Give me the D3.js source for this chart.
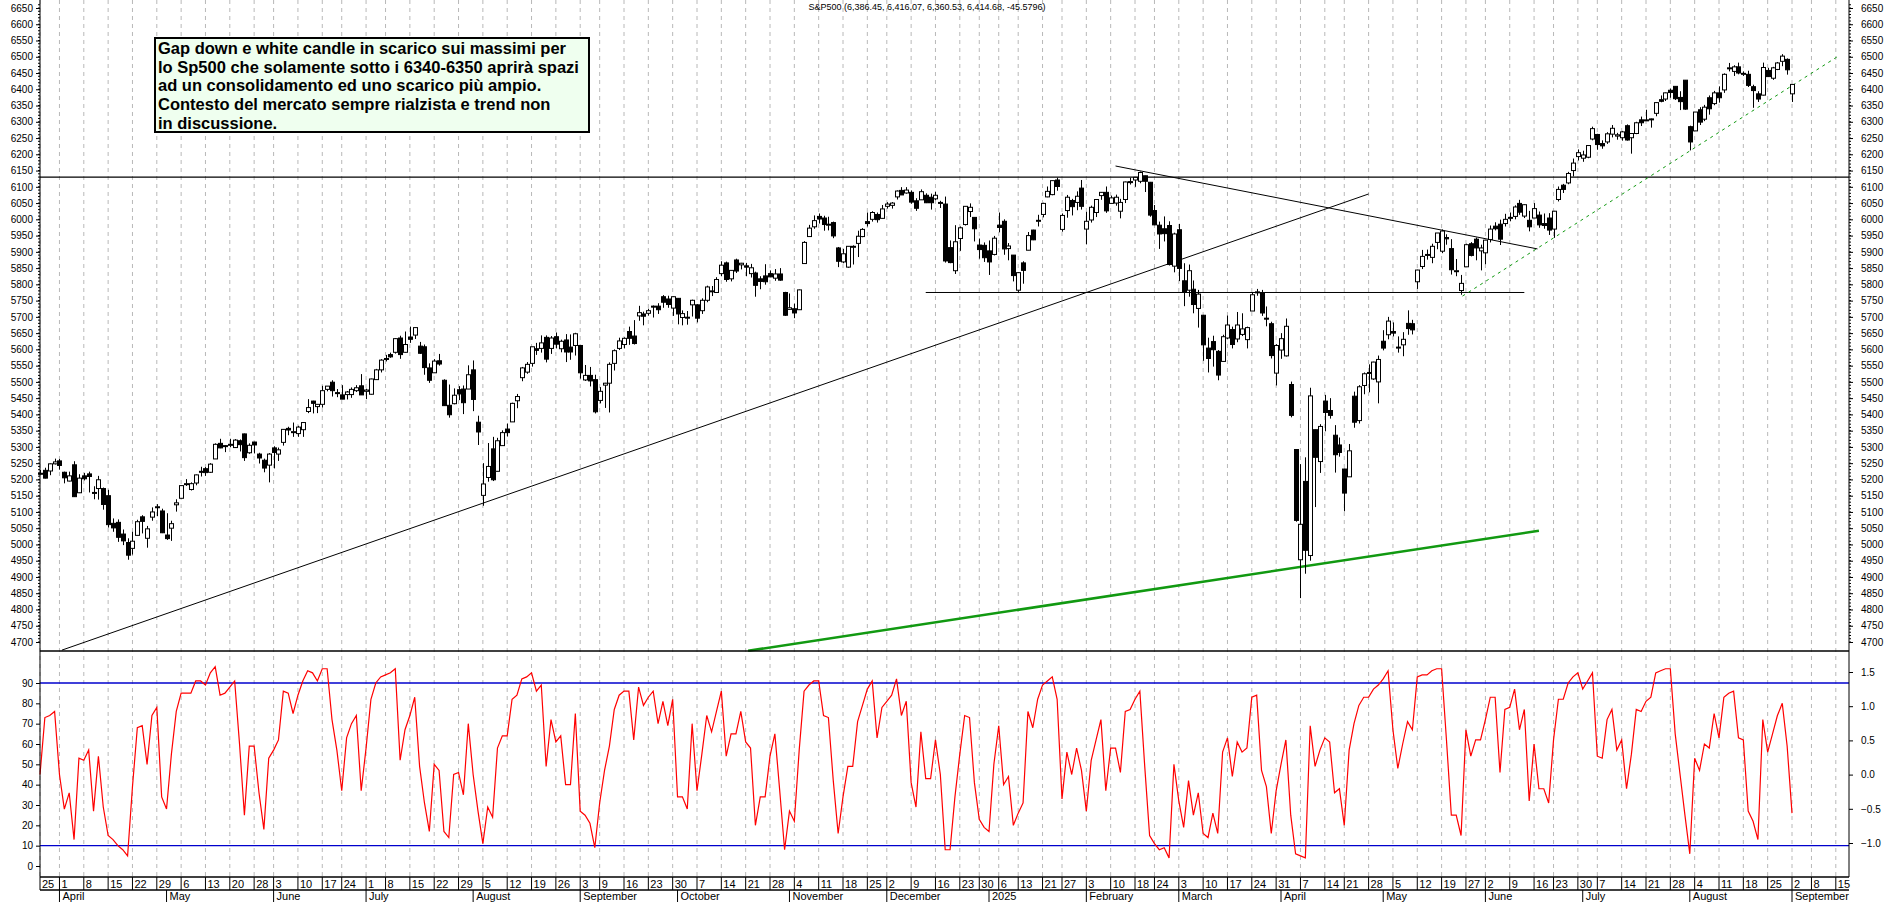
<!DOCTYPE html>
<html>
<head>
<meta charset="utf-8">
<script src="https://cdn.jsdelivr.net/npm/d3@7"></script>
<style>
  body { margin: 0; background: #fff; }
  svg { display: block; font-family: "Liberation Sans", Arial, sans-serif; }
</style>
</head>
<body>
<div id="app"></div>
<script>
// daily bars: date open high low close
const bars = `
2024-03-25 5219 5229 5216 5218|2024-03-26 5228 5236 5203 5204|2024-03-27 5226 5249 5213 5248|2024-03-28 5248 5264 5246 5254
2024-04-01 5257 5263 5230 5243|2024-04-02 5222 5224 5188 5205|2024-04-03 5195 5224 5194 5211|2024-04-04 5245 5256 5146 5147|2024-04-05 5159 5216 5158 5204
2024-04-08 5211 5220 5197 5202|2024-04-09 5217 5224 5160 5209|2024-04-10 5160 5179 5139 5160|2024-04-11 5172 5211 5138 5199|2024-04-12 5172 5175 5107 5123
2024-04-15 5150 5168 5052 5061|2024-04-16 5065 5080 5039 5051|2024-04-17 5068 5077 5008 5022|2024-04-18 5032 5046 4998 5011|2024-04-19 5006 5019 4953 4967
2024-04-22 4988 5039 4969 5010|2024-04-23 5028 5076 5028 5070|2024-04-24 5085 5090 5034 5071|2024-04-25 5019 5057 4990 5048|2024-04-26 5084 5114 5073 5100
2024-04-29 5114 5124 5087 5116|2024-04-30 5103 5110 5035 5036|2024-05-01 5029 5096 5014 5018|2024-05-02 5050 5073 5011 5064|2024-05-03 5122 5139 5101 5128
2024-05-06 5142 5181 5142 5181|2024-05-07 5187 5201 5180 5187|2024-05-08 5169 5191 5166 5187|2024-05-09 5189 5215 5182 5214|2024-05-10 5225 5239 5209 5223
2024-05-13 5233 5238 5211 5221|2024-05-14 5222 5250 5220 5247|2024-05-15 5263 5311 5263 5308|2024-05-16 5311 5325 5296 5297|2024-05-17 5304 5305 5284 5303
2024-05-20 5305 5325 5299 5308|2024-05-21 5298 5324 5297 5321|2024-05-22 5319 5323 5286 5307|2024-05-23 5340 5341 5257 5267|2024-05-24 5282 5311 5279 5305
2024-05-28 5315 5316 5280 5306|2024-05-29 5278 5282 5249 5266|2024-05-30 5259 5264 5222 5235|2024-05-31 5244 5281 5191 5278
2024-06-03 5297 5302 5234 5283|2024-06-04 5278 5298 5257 5291|2024-06-05 5314 5354 5304 5354|2024-06-06 5357 5362 5336 5352|2024-06-07 5344 5375 5331 5347
2024-06-10 5341 5365 5331 5361|2024-06-11 5353 5376 5331 5375|2024-06-12 5409 5447 5404 5421|2024-06-13 5441 5442 5403 5434|2024-06-14 5424 5432 5404 5431
2024-06-17 5431 5488 5421 5473|2024-06-18 5477 5487 5471 5487|2024-06-20 5499 5505 5455 5473|2024-06-21 5467 5478 5453 5464
2024-06-24 5460 5490 5447 5447|2024-06-25 5461 5472 5446 5469|2024-06-26 5461 5483 5451 5477|2024-06-27 5473 5490 5469 5482|2024-06-28 5488 5524 5460 5460
2024-07-01 5471 5479 5447 5475|2024-07-02 5462 5510 5461 5509|2024-07-03 5507 5540 5507 5537|2024-07-05 5537 5570 5529 5567
2024-07-08 5572 5583 5563 5572|2024-07-09 5584 5590 5574 5577|2024-07-10 5591 5635 5587 5633|2024-07-11 5635 5642 5571 5584|2024-07-12 5591 5655 5590 5615
2024-07-15 5638 5670 5620 5631|2024-07-16 5644 5667 5632 5667|2024-07-17 5610 5623 5586 5588|2024-07-18 5608 5615 5522 5544|2024-07-19 5543 5557 5497 5505
2024-07-22 5528 5570 5528 5564|2024-07-23 5565 5586 5550 5555|2024-07-24 5505 5508 5426 5427|2024-07-25 5428 5492 5390 5399|2024-07-26 5433 5480 5431 5459
2024-07-29 5476 5487 5444 5463|2024-07-30 5478 5489 5401 5436|2024-07-31 5478 5551 5478 5522|2024-08-01 5537 5566 5410 5446|2024-08-02 5376 5396 5306 5346
2024-08-05 5151 5250 5119 5186|2024-08-06 5206 5312 5193 5240|2024-08-07 5294 5331 5195 5199|2024-08-08 5225 5328 5225 5319|2024-08-09 5304 5351 5303 5344
2024-08-12 5355 5372 5332 5344|2024-08-13 5377 5436 5377 5434|2024-08-14 5442 5463 5419 5455|2024-08-15 5513 5546 5502 5543|2024-08-16 5530 5561 5525 5554
2024-08-19 5557 5608 5547 5608|2024-08-20 5602 5620 5583 5597|2024-08-21 5603 5643 5590 5620|2024-08-22 5637 5643 5560 5570|2024-08-23 5603 5641 5586 5635
2024-08-26 5639 5652 5603 5616|2024-08-27 5602 5630 5591 5625|2024-08-28 5629 5647 5561 5592|2024-08-29 5607 5646 5568 5592|2024-08-30 5612 5651 5581 5648
2024-09-03 5612 5612 5510 5528|2024-09-04 5506 5552 5503 5520|2024-09-05 5520 5546 5486 5503|2024-09-06 5507 5522 5403 5408
2024-09-09 5443 5484 5434 5471|2024-09-10 5490 5497 5420 5496|2024-09-11 5496 5560 5406 5554|2024-09-12 5557 5600 5535 5596|2024-09-13 5603 5636 5598 5626
2024-09-16 5615 5637 5603 5634|2024-09-17 5655 5670 5614 5634|2024-09-18 5641 5690 5615 5618|2024-09-19 5703 5734 5688 5713|2024-09-20 5709 5716 5674 5702
2024-09-23 5711 5725 5704 5719|2024-09-24 5733 5735 5698 5732|2024-09-25 5733 5742 5709 5722|2024-09-26 5762 5767 5728 5745|2024-09-27 5755 5765 5728 5738
2024-09-30 5727 5763 5703 5762|2024-10-01 5757 5757 5677 5709|2024-10-02 5698 5720 5674 5710|2024-10-03 5698 5718 5676 5699|2024-10-04 5737 5753 5701 5751
2024-10-07 5737 5739 5683 5696|2024-10-08 5719 5757 5709 5751|2024-10-09 5751 5796 5745 5792|2024-10-10 5778 5795 5764 5780|2024-10-11 5775 5822 5775 5815
2024-10-14 5833 5871 5825 5859|2024-10-15 5866 5870 5808 5815|2024-10-16 5817 5843 5809 5843|2024-10-17 5875 5879 5835 5841|2024-10-18 5860 5866 5846 5865
2024-10-21 5857 5866 5825 5853|2024-10-22 5833 5863 5821 5851|2024-10-23 5835 5839 5762 5797|2024-10-24 5817 5825 5785 5809|2024-10-25 5826 5862 5799 5808
2024-10-28 5833 5843 5822 5823|2024-10-29 5819 5847 5811 5832|2024-10-30 5832 5850 5811 5813|2024-10-31 5775 5777 5703 5705|2024-11-01 5723 5772 5723 5728
2024-11-04 5725 5741 5696 5712|2024-11-05 5722 5784 5722 5783|2024-11-06 5864 5933 5864 5929|2024-11-07 5947 5983 5947 5973|2024-11-08 5977 6012 5971 5996
2024-11-11 6009 6018 5987 6001|2024-11-12 6004 6011 5965 5984|2024-11-13 5985 6008 5966 5985|2024-11-14 5990 5993 5942 5949|2024-11-15 5912 5915 5853 5871
2024-11-18 5869 5909 5865 5894|2024-11-19 5853 5917 5851 5917|2024-11-20 5915 5920 5861 5917|2024-11-21 5926 5965 5884 5948|2024-11-22 5947 5973 5945 5969
2024-11-25 5993 6021 5978 5987|2024-11-26 6000 6025 5993 6021|2024-11-27 6015 6021 5990 5999|2024-11-29 6003 6044 6003 6032
2024-12-02 6040 6053 6033 6047|2024-12-03 6043 6053 6033 6050|2024-12-04 6069 6089 6061 6087|2024-12-05 6089 6099 6075 6075|2024-12-06 6081 6099 6079 6090
2024-12-09 6083 6089 6048 6053|2024-12-10 6057 6065 6026 6034|2024-12-11 6060 6092 6060 6085|2024-12-12 6074 6080 6050 6051|2024-12-13 6068 6079 6030 6051
2024-12-16 6063 6085 6059 6074|2024-12-17 6052 6057 6035 6050|2024-12-18 6047 6070 5867 5872|2024-12-19 5913 5935 5865 5867|2024-12-20 5842 5982 5832 5931
2024-12-23 5941 5978 5903 5974|2024-12-24 5984 6040 5981 6040|2024-12-26 6024 6049 6007 6037|2024-12-27 6006 6006 5932 5971
2024-12-30 5921 5941 5879 5907|2024-12-31 5920 5929 5869 5882|2025-01-02 5903 5935 5829 5869|2025-01-03 5892 5949 5889 5942
2025-01-06 5982 6021 5960 5975|2025-01-07 5994 6000 5891 5909|2025-01-08 5910 5927 5874 5918|2025-01-10 5890 5890 5809 5827
2025-01-13 5782 5838 5773 5836|2025-01-14 5866 5871 5802 5843|2025-01-15 5905 5961 5905 5950|2025-01-16 5967 5968 5936 5937|2025-01-17 5995 6014 5978 5997
2025-01-21 6015 6051 6006 6049|2025-01-22 6069 6101 6068 6086|2025-01-23 6076 6119 6074 6119|2025-01-24 6121 6128 6088 6101
2025-01-27 5969 6018 5962 6012|2025-01-28 6027 6075 6005 6068|2025-01-29 6058 6063 6012 6039|2025-01-30 6052 6086 6028 6071|2025-01-31 6096 6121 6030 6040
2025-02-03 5970 6023 5923 5994|2025-02-04 5998 6042 5990 6037|2025-02-05 6021 6062 6007 6061|2025-02-06 6073 6084 6060 6083|2025-02-07 6083 6101 6020 6026
2025-02-10 6049 6073 6049 6066|2025-02-11 6050 6076 6042 6068|2025-02-12 6025 6063 6003 6052|2025-02-13 6061 6116 6050 6115|2025-02-14 6116 6128 6107 6114
2025-02-18 6121 6129 6100 6129|2025-02-19 6117 6147 6111 6144|2025-02-20 6134 6134 6084 6117|2025-02-21 6114 6115 6008 6013
2025-02-24 6027 6044 5982 5983|2025-02-25 5982 5993 5909 5955|2025-02-26 5971 6009 5932 5956|2025-02-27 5981 5994 5858 5861|2025-02-28 5856 5959 5837 5955
2025-03-03 5968 5986 5810 5849|2025-03-04 5811 5865 5733 5778|2025-03-05 5782 5861 5762 5842|2025-03-06 5785 5812 5711 5738|2025-03-07 5726 5783 5667 5770
2025-03-10 5705 5706 5565 5614|2025-03-11 5604 5636 5529 5572|2025-03-12 5624 5642 5547 5599|2025-03-13 5594 5598 5505 5521|2025-03-14 5563 5645 5563 5639
2025-03-17 5635 5704 5632 5675|2025-03-18 5661 5670 5603 5615|2025-03-19 5632 5715 5622 5675|2025-03-20 5646 5711 5641 5663|2025-03-21 5630 5670 5603 5667
2025-03-24 5718 5775 5718 5768|2025-03-25 5775 5786 5765 5777|2025-03-26 5772 5783 5703 5712|2025-03-27 5696 5732 5671 5693|2025-03-28 5679 5685 5572 5581
2025-03-31 5527 5616 5489 5612|2025-04-01 5598 5650 5571 5633|2025-04-02 5580 5695 5578 5671|2025-04-03 5492 5501 5391 5397|2025-04-04 5292 5293 5070 5074
2025-04-07 4953 5247 4835 5062|2025-04-08 5194 5268 4910 4982|2025-04-09 4966 5482 4950 5457|2025-04-10 5353 5353 5115 5268|2025-04-11 5255 5370 5220 5363
2025-04-14 5441 5460 5348 5406|2025-04-15 5412 5450 5387 5397|2025-04-16 5336 5367 5221 5276|2025-04-17 5306 5329 5270 5283
2025-04-21 5232 5233 5102 5158|2025-04-22 5208 5309 5208 5288|2025-04-23 5456 5470 5359 5376|2025-04-24 5381 5490 5372 5485|2025-04-25 5489 5529 5462 5525
2025-04-28 5529 5554 5468 5529|2025-04-29 5509 5562 5506 5561|2025-04-30 5500 5581 5434 5569|2025-05-01 5625 5659 5597 5604|2025-05-02 5645 5700 5631 5687
2025-05-05 5655 5683 5640 5650|2025-05-06 5606 5640 5590 5607|2025-05-07 5614 5653 5579 5631|2025-05-08 5680 5720 5645 5664|2025-05-09 5679 5691 5646 5660
2025-05-12 5808 5845 5786 5844|2025-05-13 5855 5906 5847 5886|2025-05-14 5891 5907 5876 5892|2025-05-15 5883 5925 5865 5917|2025-05-16 5929 5958 5908 5958
2025-05-19 5902 5969 5896 5964|2025-05-20 5944 5954 5922 5940|2025-05-21 5910 5939 5830 5845|2025-05-22 5842 5878 5825 5842|2025-05-23 5781 5829 5768 5803
2025-05-27 5854 5925 5854 5922|2025-05-28 5925 5930 5886 5889|2025-05-29 5939 5944 5874 5912|2025-05-30 5903 5922 5843 5912
2025-06-02 5897 5937 5862 5936|2025-06-03 5938 5981 5929 5970|2025-06-04 5979 5991 5966 5971|2025-06-05 5985 5999 5921 5939|2025-06-06 5987 6017 5978 6000
2025-06-09 6004 6021 5994 6006|2025-06-10 6009 6043 6000 6038|2025-06-11 6049 6060 6014 6022|2025-06-12 6010 6046 6004 6045|2025-06-13 5997 6026 5963 5977
2025-06-16 6004 6050 6004 6033|2025-06-17 6013 6024 5974 5983|2025-06-18 5987 6018 5971 5981|2025-06-20 6004 6019 5952 5967
2025-06-23 5970 6026 5943 6025|2025-06-24 6061 6101 6055 6092|2025-06-25 6105 6109 6081 6092|2025-06-26 6112 6146 6108 6141|2025-06-27 6150 6187 6132 6173
2025-06-30 6193 6215 6181 6205|2025-07-01 6188 6211 6177 6198|2025-07-02 6191 6227 6188 6227|2025-07-03 6247 6285 6243 6279
2025-07-07 6261 6263 6214 6230|2025-07-08 6233 6243 6217 6226|2025-07-09 6238 6268 6232 6263|2025-07-10 6262 6290 6252 6280|2025-07-11 6256 6266 6245 6260
2025-07-14 6251 6272 6242 6269|2025-07-15 6288 6292 6242 6244|2025-07-16 6251 6265 6202 6264|2025-07-17 6264 6300 6262 6297|2025-07-18 6306 6316 6287 6297
2025-07-21 6304 6337 6303 6306|2025-07-22 6307 6310 6282 6309|2025-07-23 6326 6360 6317 6359|2025-07-24 6368 6381 6360 6363|2025-07-25 6370 6390 6364 6389
2025-07-28 6397 6402 6374 6390|2025-07-29 6409 6409 6367 6371|2025-07-30 6375 6394 6336 6362|2025-07-31 6428 6428 6337 6339|2025-08-01 6285 6288 6212 6238
2025-08-04 6272 6330 6272 6330|2025-08-05 6337 6345 6290 6299|2025-08-06 6308 6352 6302 6345|2025-08-07 6374 6381 6322 6340|2025-08-08 6356 6395 6351 6389
2025-08-11 6389 6409 6359 6374|2025-08-12 6398 6449 6389 6446|2025-08-13 6466 6481 6455 6466|2025-08-14 6455 6474 6441 6469|2025-08-15 6469 6482 6446 6450
2025-08-18 6446 6455 6441 6449|2025-08-19 6446 6457 6407 6412|2025-08-20 6408 6414 6343 6396|2025-08-21 6386 6394 6361 6370|2025-08-22 6382 6482 6381 6467
2025-08-25 6458 6466 6438 6439|2025-08-26 6434 6469 6429 6466|2025-08-27 6461 6484 6459 6481|2025-08-28 6486 6508 6471 6502|2025-08-29 6492 6495 6445 6460
2025-09-02 6386 6416 6361 6415`;

// empty trading days after the last bar (for the axis)
const futureDays = ["2025-09-03", "2025-09-04", "2025-09-05", "2025-09-08", "2025-09-09",
  "2025-09-10", "2025-09-11", "2025-09-12", "2025-09-15"];

// oscillator, one value per bar
const osc = [45,73,74,76,45,28,36,13,53,52,57,27,54,29,15,13,10,8,5,39,68,69,50,74,78,34,28,55,76,85,
  85,85,91,91,89,95,98,84,85,88,91,60,25,59,59,36,18,53,57,62,86,85,75,84,91,96,95,91,97,97,
  72,57,37,63,70,74,37,58,82,90,93,94,95,97,52,67,74,83,49,31,17,50,47,17,14,45,46,35,70,45,
  27,11,29,24,58,64,64,82,84,92,93,95,86,89,49,72,61,64,40,40,75,27,25,21,9,31,47,59,77,84,
  86,86,62,88,79,83,86,70,81,69,82,34,34,28,70,37,55,74,66,76,86,54,65,65,76,61,58,20,34,34,
  54,65,37,8,27,22,57,86,89,91,91,74,73,42,16,34,49,49,71,79,87,91,63,78,81,84,92,74,81,41,
  29,66,43,43,62,45,8,8,34,55,74,73,41,23,19,17,50,69,40,44,20,26,31,76,68,82,89,91,93,82,
  33,56,45,58,47,27,52,62,72,37,58,58,46,76,77,82,86,49,15,11,8,9,4,50,32,19,42,25,36,16,
  14,26,16,56,63,44,61,56,58,83,84,47,39,16,37,50,62,25,6,5,4,69,49,57,63,61,36,38,20,57,
  70,79,83,83,87,89,92,96,67,48,60,71,67,93,94,94,96,97,97,62,25,25,15,67,54,62,62,72,83,83,
  46,77,78,87,67,77,32,60,38,38,31,62,82,82,90,93,95,87,91,95,54,53,72,77,57,62,38,55,77,76,
  81,83,95,96,97,97,65,45,25,6,53,47,60,58,75,63,83,85,86,63,62,27,22,13,72,56,65,74,80,59,26];

const priceTicks = d3.range(4700, 6651, 50);
const oscTicks = d3.range(0, 91, 10);
const oscRightTicks = [-1.0, -0.5, 0.0, 0.5, 1.0, 1.5];
const oscBands = [90, 10];
const resistance = 6130;

// drawn lines: [bar index, price] -> [bar index, price]
const trendLines = [
  { from: [4.5, 4675], to: [273, 6078], color: "#000", width: 1, dash: null },
  { from: [221, 6164], to: [307.7, 5909], color: "#000", width: 1, dash: null },
  { from: [182, 5775], to: [305, 5775], color: "#000", width: 1, dash: null },
  { from: [145.5, 4673], to: [308, 5042], color: "#119911", width: 2.5, dash: null },
  { from: [292.3, 5764], to: [369.2, 6499], color: "#119911", width: 1, dash: "3,4" }
];

const title = "S&P500 (6,386.45, 6,416.07, 6,360.53, 6,414.68, -45.5796)";
const note = [
  "Gap down e white candle in scarico sui massimi per",
  "lo Sp500 che solamente sotto i 6340-6350 aprirà spazi",
  "ad un consolidamento ed uno scarico più ampio.",
  "Contesto del mercato sempre rialzista e trend non",
  "in discussione."
];
const monthNames = ["January", "February", "March", "April", "May", "June", "July",
  "August", "September", "October", "November", "December"];

const data = bars.trim().split(/[|\n]/).map((s) => {
  const p = s.trim().split(" ");
  return { date: p[0], o: +p[1], h: +p[2], l: +p[3], c: +p[4] };
});
const days = data.map((d) => d.date).concat(futureDays);

const W = 1890, H = 902;
const left = 40, right = 1849;
const x = d3.scaleLinear().domain([0, data.length - 1]).range([40, 1792]);
const y = d3.scaleLinear().domain([4700, 6650]).range([642, 8]);
const yo = d3.scaleLinear().domain([0, 90]).range([866, 683]);
const yr = d3.scaleLinear().domain([-1, 1.5]).range([843, 672]);
const mainBottom = 651, axisTop = 877, axisMid = 890;

const svg = d3.select("#app").append("svg").attr("width", W).attr("height", H);

// week and month ticks
const parse = d3.utcParse("%Y-%m-%d");
const weekTicks = [], monthTicks = [];
days.forEach((d, i) => {
  const t = parse(d);
  const prev = i > 0 ? parse(days[i - 1]) : null;
  if (!prev || t.getUTCDay() <= prev.getUTCDay() || (t - prev) > 3 * 864e5) weekTicks.push(i);
  if (!prev || t.getUTCMonth() !== prev.getUTCMonth()) monthTicks.push(i);
});

// grid
svg.append("g").selectAll("line").data(weekTicks).join("line")
  .attr("x1", (i) => x(i)).attr("x2", (i) => x(i))
  .attr("y1", 0).attr("y2", axisTop)
  .attr("stroke", "#b8b8b8").attr("stroke-dasharray", "4,4");

// title
svg.append("text").attr("x", 927).attr("y", 10).attr("text-anchor", "middle")
  .attr("font-size", 9).text(title);

// resistance and bands
svg.append("line").attr("x1", left).attr("x2", right)
  .attr("y1", y(resistance)).attr("y2", y(resistance)).attr("stroke", "#000").attr("stroke-width", 1.3);
svg.append("g").selectAll("line").data(oscBands).join("line")
  .attr("x1", left).attr("x2", right).attr("y1", (v) => yo(v)).attr("y2", (v) => yo(v))
  .attr("stroke", "#0000cc").attr("stroke-width", 1.3);

// trend lines
svg.append("g").selectAll("line").data(trendLines).join("line")
  .attr("x1", (d) => x(d.from[0])).attr("y1", (d) => y(d.from[1]))
  .attr("x2", (d) => x(d.to[0])).attr("y2", (d) => y(d.to[1]))
  .attr("stroke", (d) => d.color).attr("stroke-width", (d) => d.width)
  .attr("stroke-dasharray", (d) => d.dash);

// candles
const candle = svg.append("g").selectAll("g").data(data).join("g");
candle.append("line")
  .attr("x1", (d, i) => Math.round(x(i)) + 0.5).attr("x2", (d, i) => Math.round(x(i)) + 0.5)
  .attr("y1", (d) => y(d.h)).attr("y2", (d) => y(d.l)).attr("stroke", "#000");
candle.append("rect")
  .attr("x", (d, i) => Math.round(x(i)) - 1.5)
  .attr("y", (d) => y(Math.max(d.o, d.c)))
  .attr("width", 4)
  .attr("height", (d) => Math.max(1, Math.abs(y(d.o) - y(d.c))))
  .attr("fill", (d) => (d.c >= d.o ? "#fff" : "#000"))
  .attr("stroke", "#000").attr("stroke-width", 1);

// oscillator
svg.append("path").datum(osc)
  .attr("d", d3.line().x((v, i) => x(i)).y((v) => yo(v)))
  .attr("fill", "none").attr("stroke", "#ff0000").attr("stroke-width", 1.2);

// panel frames
svg.append("line").attr("x1", left).attr("x2", right).attr("y1", mainBottom).attr("y2", mainBottom)
  .attr("stroke", "#000").attr("stroke-width", 1.3);
[left, right].forEach((xx) => svg.append("line").attr("x1", xx).attr("x2", xx)
  .attr("y1", 0).attr("y2", axisTop).attr("stroke", "#000"));

// price axes
svg.append("g").attr("transform", `translate(${left},0)`).attr("font-size", 10)
  .call(d3.axisLeft(y).tickValues(priceTicks).tickSize(4).tickFormat(d3.format("d")))
  .call((g) => g.select(".domain").remove());
svg.append("g").attr("transform", `translate(${right},0)`).attr("font-size", 10)
  .call(d3.axisRight(y).tickValues(priceTicks).tickSize(4).tickPadding(8).tickFormat(d3.format("d")))
  .call((g) => g.select(".domain").remove());
const minor = d3.range(4700, 6661, 10);
svg.append("g").selectAll("line").data(minor).join("line")
  .attr("x1", left - 2).attr("x2", left).attr("y1", (v) => y(v)).attr("y2", (v) => y(v)).attr("stroke", "#000");
svg.append("g").selectAll("line").data(minor).join("line")
  .attr("x1", right).attr("x2", right + 2).attr("y1", (v) => y(v)).attr("y2", (v) => y(v)).attr("stroke", "#000");

// oscillator axes
svg.append("g").attr("transform", `translate(${left},0)`).attr("font-size", 10)
  .call(d3.axisLeft(yo).tickValues(oscTicks).tickSize(4).tickFormat(d3.format("d")))
  .call((g) => g.select(".domain").remove());
svg.append("g").attr("transform", `translate(${right},0)`).attr("font-size", 10)
  .call(d3.axisRight(yr).tickValues(oscRightTicks).tickSize(4).tickPadding(8).tickFormat(d3.format(".1f")))
  .call((g) => g.select(".domain").remove());

// date axis
svg.append("line").attr("x1", left).attr("x2", right).attr("y1", axisTop).attr("y2", axisTop)
  .attr("stroke", "#000").attr("stroke-width", 1.5);
svg.append("line").attr("x1", left).attr("x2", right).attr("y1", axisMid).attr("y2", axisMid)
  .attr("stroke", "#000").attr("stroke-width", 1.5);
const dayG = svg.append("g").selectAll("g").data(weekTicks.filter((i) => x(i) < right)).join("g");
dayG.append("line").attr("x1", (i) => x(i)).attr("x2", (i) => x(i))
  .attr("y1", axisTop).attr("y2", axisMid).attr("stroke", "#000");
dayG.append("text").attr("x", (i) => x(i) + 2).attr("y", axisMid - 2).attr("font-size", 11)
  .text((i) => +days[i].slice(8));
const monG = svg.append("g").selectAll("g").data(monthTicks.filter((i) => i > 0)).join("g");
monG.append("line").attr("x1", (i) => x(i)).attr("x2", (i) => x(i))
  .attr("y1", axisMid).attr("y2", H).attr("stroke", "#000");
monG.append("text").attr("x", (i) => x(i) + 3).attr("y", H - 2).attr("font-size", 11)
  .text((i) => {
    const m = +days[i].slice(5, 7) - 1;
    return m === 0 ? days[i].slice(0, 4) : monthNames[m];
  });

// note box
svg.append("rect").attr("x", 155).attr("y", 38).attr("width", 434).attr("height", 94)
  .attr("fill", "#efffef").attr("stroke", "#000").attr("stroke-width", 2);
svg.append("g").selectAll("text").data(note).join("text")
  .attr("x", 158).attr("y", (d, i) => 54 + i * 18.7)
  .attr("font-size", 16.5).attr("font-weight", "bold").text((d) => d);
</script>
</body>
</html>
